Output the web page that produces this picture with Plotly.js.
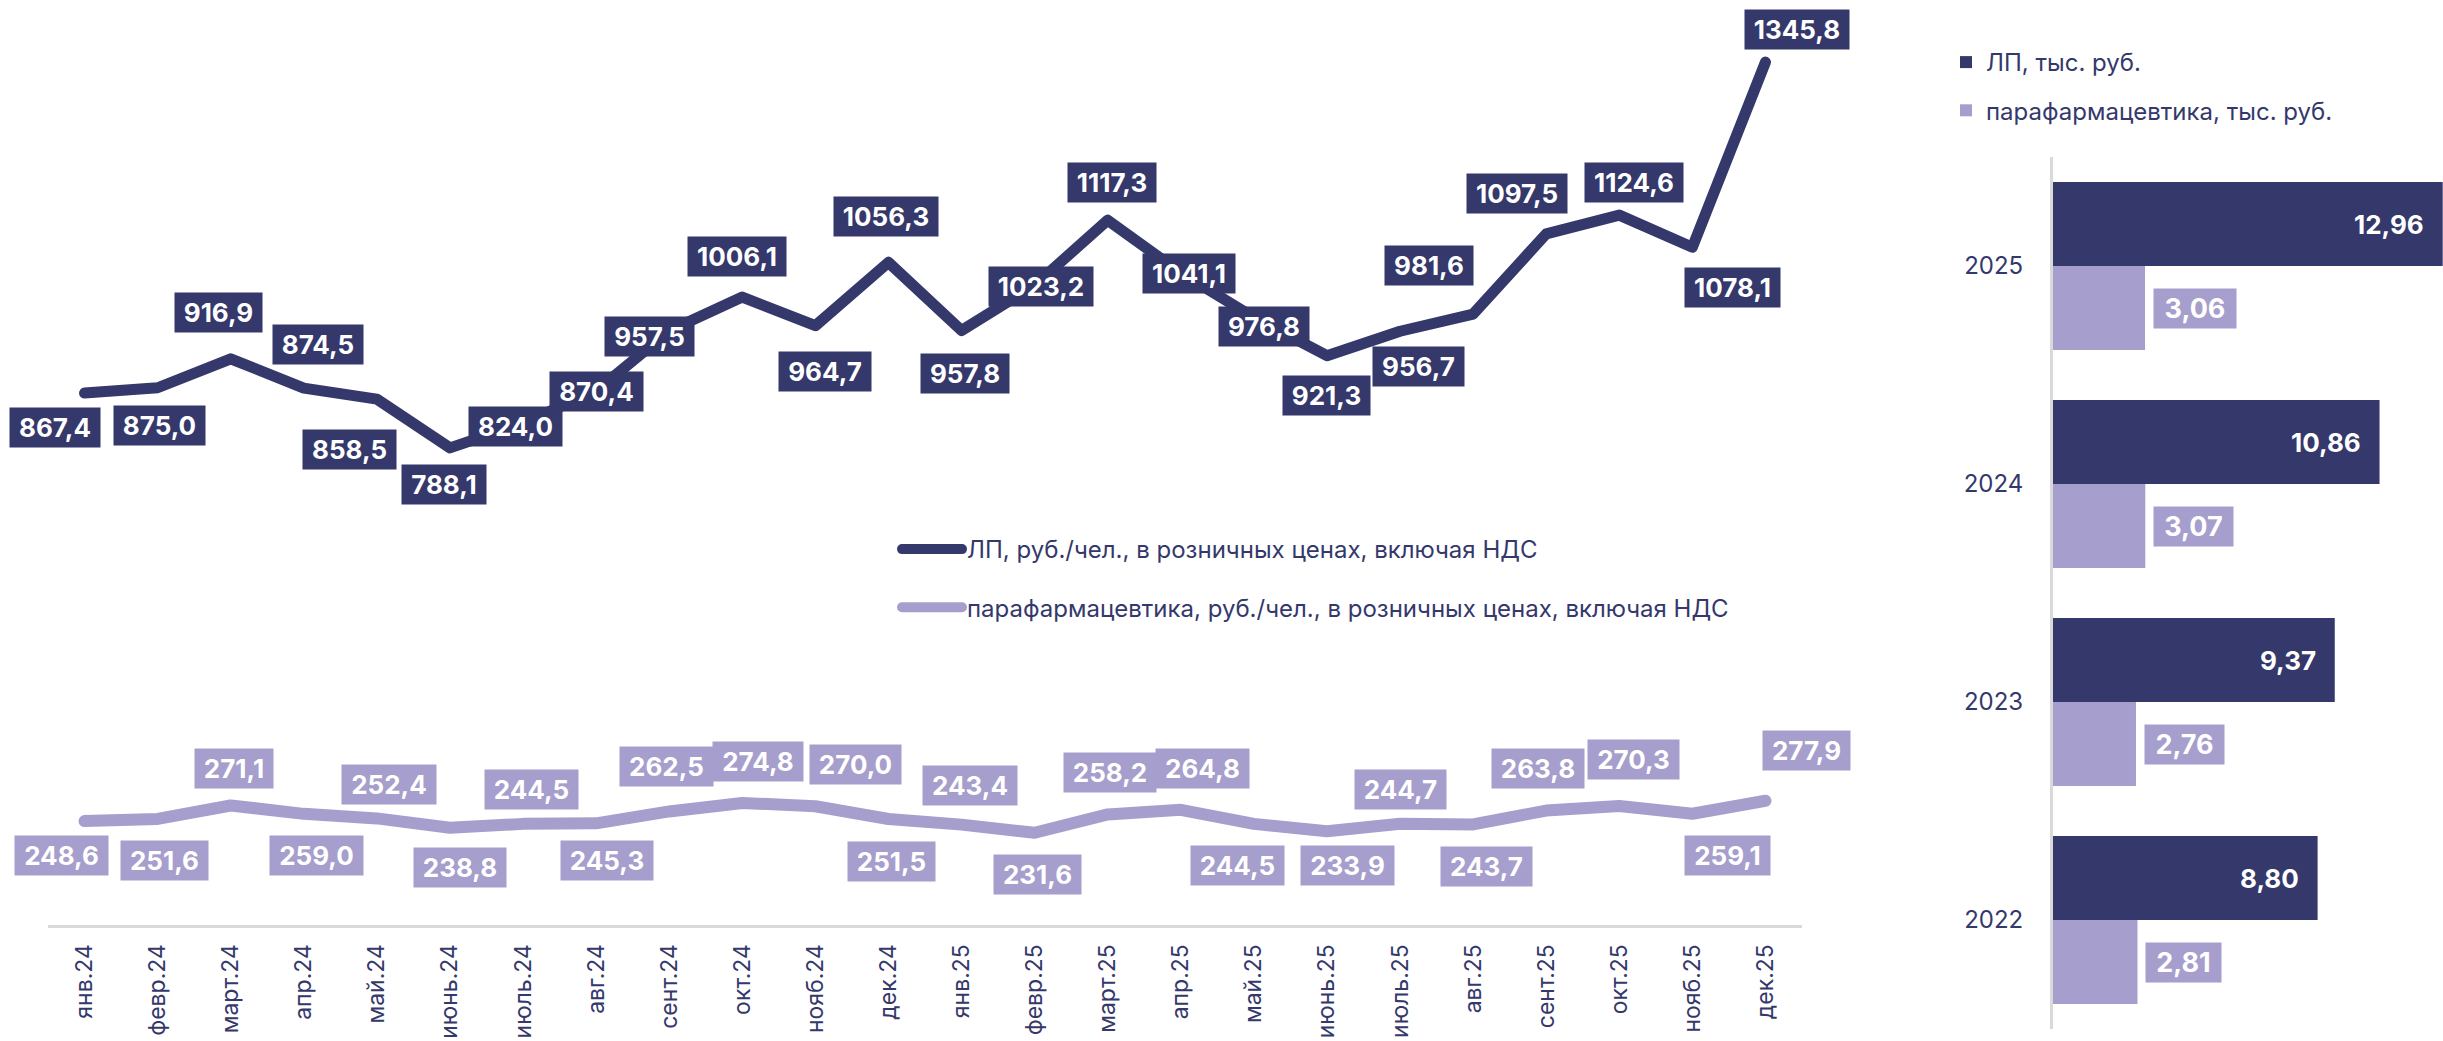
<!DOCTYPE html>
<html>
<head>
<meta charset="utf-8">
<script src="https://cdn.plot.ly/plotly-3.0.1.min.js"></script>
<style>
  html, body { margin: 0; padding: 0; background: #fff; }
  #chart { width: 2443px; height: 1041px; }
  .scatterlayer .js-line, .legendlines path { stroke-linecap: round; stroke-linejoin: round; }
</style>
</head>
<body>
<div id="chart"></div>
<script>
// ---- data ----
const months = ['янв.24','февр.24','март.24','апр.24','май.24','июнь.24','июль.24','авг.24','сент.24','окт.24','нояб.24','дек.24',
                'янв.25','февр.25','март.25','апр.25','май.25','июнь.25','июль.25','авг.25','сент.25','окт.25','нояб.25','дек.25'];
const lpMonthly = [867.4,875.0,916.9,874.5,858.5,788.1,824.0,870.4,957.5,1006.1,964.7,1056.3,
                   957.8,1023.2,1117.3,1041.1,976.8,921.3,956.7,981.6,1097.5,1124.6,1078.1,1345.8];
const paraMonthly = [248.6,251.6,271.1,259.0,252.4,238.8,244.5,245.3,262.5,274.8,270.0,251.5,
                     243.4,231.6,258.2,264.8,244.5,233.9,244.7,243.7,263.8,270.3,259.1,277.9];
const years = ['2022','2023','2024','2025'];
const lpYearly = [8.80, 9.37, 10.86, 12.96];
const paraYearly = [2.81, 2.76, 3.07, 3.06];

const lpLineName = 'ЛП, руб./чел., в розничных ценах, включая НДС';
const paraLineName = 'парафармацевтика, руб./чел., в розничных ценах, включая НДС';
const lpBarName = 'ЛП, тыс. руб.';
const paraBarName = 'парафармацевтика, тыс. руб.';

// ---- label placement (styling: pixel offsets of label boxes from points) ----
const lpLabelOffset = [[-30,34.5],[1.5,37.7],[-12,-46],[14,-43.6],[-27,50],[-6,37],[-7.5,3.5],[0,0.5],[-20,6],[-5,-40.6],[9.5,46],[-2,-46],
                       [3.5,43],[6.5,1],[4.5,-38],[8.5,0.6],[10.5,9],[0,40],[18.5,35],[-44,-48.5],[-29,-40],[14.5,-32.6],[40,40],[31.5,-32.6]];
const paraLabelOffset = [[-23.5,34.5],[7,41.5],[3,-37],[12.5,41.7],[12.5,-34.4],[10.5,39.7],[8.5,-34.4],[11,37.2],[-2.5,-45],[16,-41.4],[40,-41.7],[3.5,42.5],
                         [8,-39],[3,41.7],[2,-42],[22,-41],[-16.5,41.6],[21,34],[0,-34],[13.5,42],[-8,-42],[14.5,-46.5],[35,41.7],[41.5,-50]];

// ---- styles ----
const DARK = '#34386B';
const LIGHT = '#A69ECC';
const AXIS = '#D9D9D9';
const FONT = 'Inter';
const W = 2443, H = 1041;
const BAR_W = 0.3853;

const ctx = document.createElement('canvas').getContext('2d');
function textW(t, size, weight) { ctx.font = (weight || 'normal') + ' ' + size + 'px ' + FONT; return ctx.measureText(t).width; }
const f1 = v => v.toFixed(1).replace('.', ',');
const f2 = v => v.toFixed(2).replace('.', ',');

const annotations = [];
function lineLabel(i, v, off, color) {
  const t = f1(v);
  annotations.push({
    xref: 'x', yref: 'y', x: months[i], y: v, text: t, showarrow: false,
    xshift: off[0], yshift: -off[1], xanchor: 'center', yanchor: 'middle',
    bgcolor: color, borderpad: 4, width: Math.round(textW(t, 26, 'bold') + 10), height: 31,
    font: {family: FONT, size: 26, color: '#FFFFFF', weight: 700}
  });
}
lpMonthly.forEach((v, i) => lineLabel(i, v, lpLabelOffset[i], DARK));
paraMonthly.forEach((v, i) => lineLabel(i, v, paraLabelOffset[i], LIGHT));

lpYearly.forEach((v, i) => {
  annotations.push({
    xref: 'x2', yref: 'y2', x: v, y: i + BAR_W / 2, text: f2(v), showarrow: false,
    xanchor: 'right', yanchor: 'middle', xshift: -17,
    font: {family: FONT, size: 26, color: '#FFFFFF', weight: 700}
  });
});
paraYearly.forEach((v, i) => {
  const t = f2(v);
  annotations.push({
    xref: 'x2', yref: 'y2', x: v, y: i - BAR_W / 2, text: t, showarrow: false,
    xanchor: 'left', yanchor: 'middle', xshift: 8,
    bgcolor: LIGHT, borderpad: 4, width: Math.round(textW(t, 27, 'bold') + 13), height: 31,
    font: {family: FONT, size: 27, color: '#FFFFFF', weight: 700}
  });
});

const traces = [
  {type: 'scatter', mode: 'lines', x: months, y: lpMonthly, name: lpLineName,
   line: {color: DARK, width: 11}, legend: 'legend', legendgroup: 'a', hoverinfo: 'skip'},
  {type: 'scatter', mode: 'lines', x: months, y: paraMonthly, name: paraLineName,
   line: {color: LIGHT, width: 12}, legend: 'legend', legendgroup: 'b', hoverinfo: 'skip'},
  {type: 'bar', orientation: 'h', x: lpYearly, y: years, xaxis: 'x2', yaxis: 'y2', name: lpBarName,
   width: BAR_W, offset: 0, marker: {color: DARK}, legend: 'legend2', legendgroup: 'c', hoverinfo: 'skip'},
  {type: 'bar', orientation: 'h', x: paraYearly, y: years, xaxis: 'x2', yaxis: 'y2', name: paraBarName,
   width: BAR_W, offset: -BAR_W, marker: {color: LIGHT}, legend: 'legend2', legendgroup: 'd', hoverinfo: 'skip'}
];

const layout = {
  width: W, height: H,
  margin: {l: 0, r: 0, t: 0, b: 0},
  paper_bgcolor: '#FFFFFF', plot_bgcolor: 'rgba(0,0,0,0)',
  barmode: 'overlay',
  showlegend: true,
  font: {family: FONT, color: DARK},
  xaxis: {
    domain: [48 / W, 1802 / W], type: 'category', anchor: 'y', range: [-0.5, 23.5],
    showline: true, linecolor: AXIS, linewidth: 3, ticks: '', showgrid: false, zeroline: false,
    tickangle: -90, tickfont: {family: FONT, size: 23, color: DARK}, ticklabelstandoff: 7, fixedrange: true
  },
  yaxis: {
    domain: [1 - 925 / H, 1], range: [98.3, 1435.6], visible: false, fixedrange: true
  },
  xaxis2: {
    domain: [2053 / W, 1], range: [0, 12.97], anchor: 'y2', visible: false, fixedrange: true
  },
  yaxis2: {
    domain: [1 - 1029 / H, 1 - 157 / H], anchor: 'x2', type: 'category', categoryarray: years, categoryorder: 'array',
    range: [-0.5, 3.5], showline: true, linecolor: AXIS, linewidth: 3, ticks: '', showgrid: false, zeroline: false,
    tickfont: {family: FONT, size: 24, color: DARK}, ticklabelstandoff: 22, fixedrange: true
  },
  legend: {
    x: 897 / W, y: 1 - 527 / H, xanchor: 'left', yanchor: 'top', bgcolor: 'rgba(0,0,0,0)',
    font: {family: FONT, size: 24, color: DARK}, itemwidth: 60, tracegroupgap: 24, traceorder: 'grouped'
  },
  legend2: {
    x: 1946 / W, y: 1 - 40 / H, xanchor: 'left', yanchor: 'top', bgcolor: 'rgba(0,0,0,0)',
    font: {family: FONT, size: 24, color: DARK}, itemwidth: 30, tracegroupgap: 14, traceorder: 'grouped'
  },
  annotations: annotations
};

Plotly.newPlot('chart', traces, layout, {displayModeBar: false, staticPlot: true});
</script>
</body>
</html>
